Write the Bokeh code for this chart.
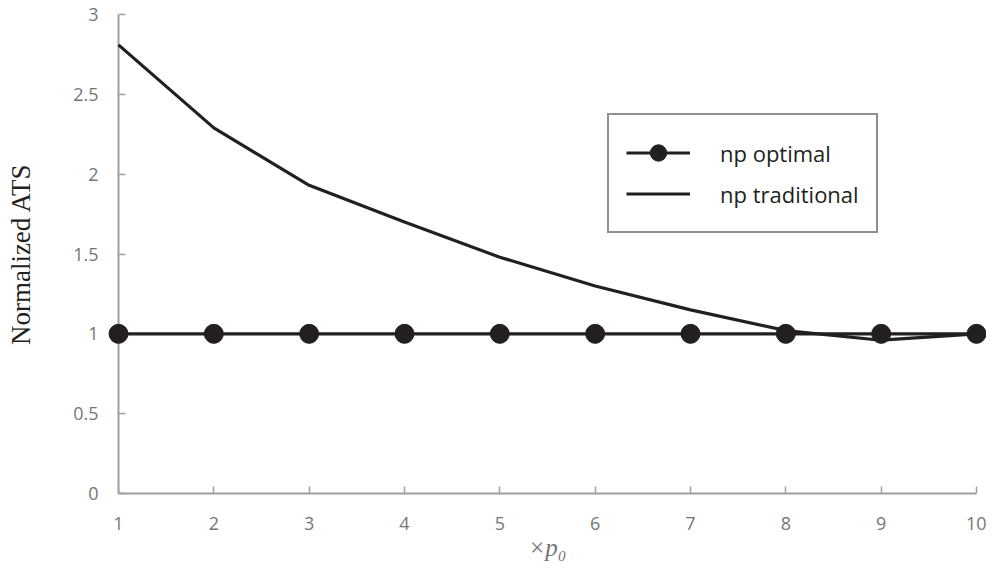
from bokeh.plotting import figure
from bokeh.models import FixedTicker, Range1d, Legend, LegendItem
from bokeh.embed import file_html
from bokeh.resources import INLINE

# ---- data ----
x_vals = [1, 2, 3, 4, 5, 6, 7, 8, 9, 10]
np_optimal = [1.0, 1.0, 1.0, 1.0, 1.0, 1.0, 1.0, 1.0, 1.0, 1.0]
np_traditional = [2.81, 2.29, 1.93, 1.70, 1.48, 1.30, 1.15, 1.02, 0.96, 1.00]
y_ticks = [0, 0.5, 1, 1.5, 2, 2.5, 3]
y_tick_labels = ["0", "0.5", "1", "1.5", "2", "2.5", "3"]
x_tick_labels = ["1", "2", "3", "4", "5", "6", "7", "8", "9", "10"]
series_names = ["np optimal", "np traditional"]
x_title = "×p₀"
y_title = "Normalized ATS"

INK = "#231f20"
GRAY_TXT = "#767676"
AXIS_GRAY = "#a0a0a0"

p = figure(width=986, height=572, output_backend="svg", toolbar_location=None,
           x_range=Range1d(1, 10), y_range=Range1d(0, 3),
           min_border_left=118, min_border_right=10, min_border_top=14, min_border_bottom=79)
p.outline_line_color = None
p.grid.visible = False
p.background_fill_color = "white"
p.border_fill_color = "white"

for ax in (p.xaxis[0], p.yaxis[0]):
    ax.axis_line_color = AXIS_GRAY
    ax.axis_line_width = 2
    ax.major_tick_line_color = AXIS_GRAY
    ax.major_tick_line_width = 1.5
    ax.major_tick_in = 7
    ax.major_tick_out = 0
    ax.minor_tick_line_color = None
    ax.major_label_text_font = "Open Sans"
    ax.major_label_text_font_size = "18px"
    ax.major_label_text_color = GRAY_TXT

p.xaxis.ticker = FixedTicker(ticks=x_vals)
p.xaxis.major_label_overrides = {v: s for v, s in zip(x_vals, x_tick_labels)}
p.xaxis.major_label_standoff = 23
p.xaxis.axis_label = x_title
p.xaxis.axis_label_text_font = "Liberation Serif"
p.xaxis.axis_label_text_font_style = "italic"
p.xaxis.axis_label_text_font_size = "25px"
p.xaxis.axis_label_text_color = GRAY_TXT
p.xaxis.axis_label_standoff = 1

p.yaxis.ticker = FixedTicker(ticks=y_ticks)
p.yaxis.major_label_overrides = {v: s for v, s in zip(y_ticks, y_tick_labels)}
p.yaxis.major_label_standoff = 20
p.yaxis.axis_label = y_title
p.yaxis.axis_label_text_font = "Liberation Serif"
p.yaxis.axis_label_text_font_style = "normal"
p.yaxis.axis_label_text_font_size = "27px"
p.yaxis.axis_label_text_color = INK
p.yaxis.axis_label_standoff = 34

trad = p.line(x_vals, np_traditional, line_color=INK, line_width=3.2, level="overlay")
opt_line = p.line(x_vals, np_optimal, line_color=INK, line_width=3.2, level="overlay")
opt_pts = p.scatter(x_vals, np_optimal, size=19, fill_color=INK, line_color=INK, level="overlay")

legend = Legend(items=[LegendItem(label=series_names[0], renderers=[opt_line, opt_pts]),
                       LegendItem(label=series_names[1], renderers=[trad])],
                location=(489, 260), margin=0,
                glyph_width=64, glyph_height=41, label_height=41,
                label_standoff=30, padding=17, spacing=0,
                label_text_font="Open Sans", label_text_font_size="22px",
                label_text_color=INK,
                border_line_color=INK, border_line_width=2,
                background_fill_color="white", background_fill_alpha=1)
p.add_layout(legend, "center")

open("out.html", "w").write(file_html(p, INLINE))
